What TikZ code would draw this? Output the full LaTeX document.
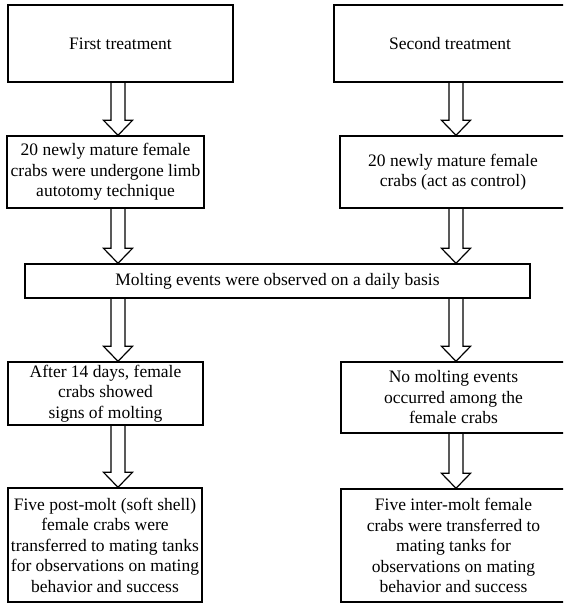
\documentclass[tikz,border=0pt]{standalone}
\usepackage{fontspec}
\setmainfont{Liberation Serif}
\usetikzlibrary{calc}
\tikzset{
  box/.style={draw, line width=1.4pt, rectangle, align=center, inner sep=0pt,
    font=\fontsize{17.5}{20.5}\selectfont},
  hollow/.style={draw, line width=1.2pt, line join=miter},
}
\newcommand\hollowarrow[3]{%
  \draw[hollow] let \p1=(#2.south), \p2=(#3.north) in
    (#1pt-7pt,\y1) -- (#1pt-7pt,\y2+15pt) -- (#1pt-14.5pt,\y2+15pt) -- (#1pt,\y2)
    -- (#1pt+14.5pt,\y2+15pt) -- (#1pt+7pt,\y2+15pt) -- (#1pt+7pt,\y1);}
\begin{document}
\begin{tikzpicture}[x=1pt,y=1pt]
\useasboundingbox (0,0) rectangle (563,-604);
\begin{scope}
\clip (0,0) rectangle (563,-604);
\node[box, minimum width=225pt, minimum height=77pt] (A) at (120.5,-43.5) {First treatment};
\node[box, minimum width=232pt, minimum height=77pt] (B) at (450,-43.5) {Second treatment};
\node[box, minimum width=197pt, minimum height=72pt] (C) at (105.5,-172) {20 newly mature female\\crabs were undergone limb\\autotomy technique};
\node[box, minimum width=226pt, minimum height=72pt] (D) at (453,-172) {20 newly mature female\\crabs (act as control)};
\node[box, minimum width=505pt, minimum height=34pt] (M) at (277.5,-281) {Molting events were observed on a daily basis};
\node[box, minimum width=195pt, minimum height=63pt] (E) at (105.5,-393.5) {After 14 days, female\\crabs showed\\signs of molting};
\node[box, minimum width=225pt, minimum height=71pt] (F) at (453.5,-397.5) {No molting events\\occurred among the\\female crabs};
\node[box, minimum width=194pt, minimum height=114pt] (G) at (105,-545) {Five post-molt (soft shell)\\female crabs were\\transferred to mating tanks\\for observations on mating\\behavior and success};
\node[box, minimum width=225pt, minimum height=113pt] (H) at (453.5,-545.5) {Five inter-molt female\\crabs were transferred to\\mating tanks for\\observations on mating\\behavior and success};
\end{scope}
\hollowarrow{118}{A}{C}
\hollowarrow{456}{B}{D}
\hollowarrow{118}{C}{M}
\hollowarrow{456}{D}{M}
\hollowarrow{118}{M}{E}
\hollowarrow{456}{M}{F}
\hollowarrow{118}{E}{G}
\hollowarrow{456}{F}{H}
\end{tikzpicture}
\end{document}
